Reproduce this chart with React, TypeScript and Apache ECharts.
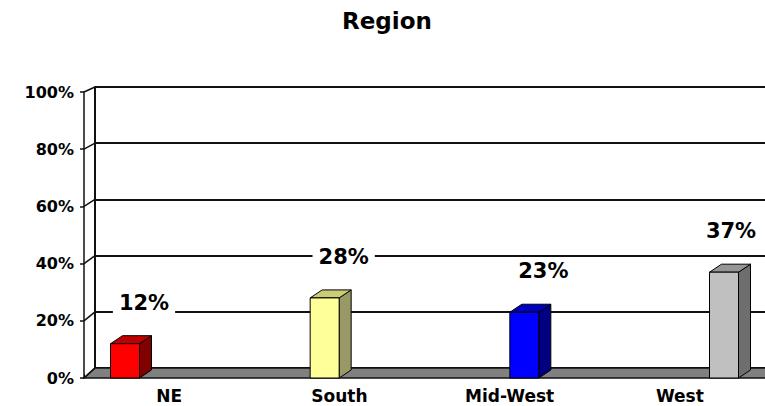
import React, { useEffect, useRef } from "react";
import * as echarts from "echarts";

const categories = ["NE", "South", "Mid-West", "West"];
const values = [12, 28, 23, 37];
const frontColors = ["#FF0000", "#FFFF99", "#0000FF", "#C0C0C0"];
const sideColors = ["#800000", "#999966", "#000080", "#6E6E6E"];
const topColors = ["#C00000", "#CCCC77", "#0000C0", "#969696"];
const yTicks = [0, 20, 40, 60, 80, 100];
const titleText = "Region";

// layout constants (3D box)
const FRONT = { left: 84, top: 92, bottom: 378 };
const BACK = { left: 95, top: 87, bottom: 368 };
const BAR_DX = 12;
const BAR_DY = -8;
const BAR_HALF = 14.5;
const W = 765;
const H = 406;
const FONT = "DejaVu Sans";

export default function App() {
  const ref = useRef<HTMLDivElement>(null);
  useEffect(() => {
    if (!ref.current) return;
    const chart = echarts.init(ref.current, undefined, { renderer: "svg" });

    const floorSeries = {
      type: "custom",
      xAxisIndex: 1,
      yAxisIndex: 1,
      z: 1,
      silent: true,
      data: [[0, 0]],
      renderItem: (params: any, api: any) => {
        const cs = params.coordSys;
        const yf = api.coord([0, 0])[1];
        const x0 = cs.x;
        const x1 = cs.x + cs.width;
        const dx = BACK.left - FRONT.left;
        const yb = BACK.bottom;
        return {
          type: "polygon",
          shape: {
            points: [
              [x0, yf],
              [x1 + 5, yf],
              [x1 + 5, yb],
              [x0 + dx, yb],
            ],
          },
          style: { fill: "#808080", stroke: "#111", lineWidth: 1.5 },
        };
      },
    };

    const sideWallSeries = {
      type: "custom",
      xAxisIndex: 1,
      yAxisIndex: 1,
      z: 1,
      silent: true,
      data: yTicks.map((v) => [0, v]),
      renderItem: (params: any, api: any) => {
        const cs = params.coordSys;
        const v = api.value(1);
        const yf = api.coord([0, v])[1];
        const t = (yf - FRONT.top) / (FRONT.bottom - FRONT.top);
        const yb = BACK.top + t * (BACK.bottom - BACK.top);
        return {
          type: "line",
          shape: { x1: cs.x, y1: yf, x2: BACK.left, y2: yb },
          style: { stroke: "#111", lineWidth: 1.5 },
        };
      },
    };

    const barSeries = {
      type: "custom",
      xAxisIndex: 2,
      yAxisIndex: 2,
      z: 3,
      data: values.map((v, i) => [i, v]),
      renderItem: (params: any, api: any) => {
        const i = api.value(0);
        const v = api.value(1);
        const [cx, ty] = api.coord([i, v]);
        const by = api.coord([i, 0])[1];
        const l = cx - BAR_HALF;
        const r = cx + BAR_HALF;
        const stroke = "#000";
        let lx = cx + 19;
        const halfW = 31;
        if (lx + halfW > W - 3) lx = W - 3 - halfW;
        return {
          type: "group",
          children: [
            {
              type: "polygon",
              shape: {
                points: [
                  [r, ty],
                  [r + BAR_DX, ty + BAR_DY],
                  [r + BAR_DX, by + BAR_DY],
                  [r, by],
                ],
              },
              style: { fill: sideColors[i], stroke, lineWidth: 1 },
            },
            {
              type: "polygon",
              shape: {
                points: [
                  [l, ty],
                  [l + BAR_DX, ty + BAR_DY],
                  [r + BAR_DX, ty + BAR_DY],
                  [r, ty],
                ],
              },
              style: { fill: topColors[i], stroke, lineWidth: 1 },
            },
            {
              type: "rect",
              shape: { x: l, y: ty, width: r - l, height: by - ty },
              style: { fill: frontColors[i], stroke, lineWidth: 1 },
            },
            {
              type: "text",
              x: lx,
              y: ty - 41,
              style: {
                text: v + "%",
                fill: "#000",
                font: `bold 21px "${FONT}"`,
                align: "center",
                verticalAlign: "middle",
                backgroundColor: "#fff",
                padding: [3, 6],
              },
            },
          ],
        };
      },
    };

    chart.setOption({
      animation: false,
      backgroundColor: "#fff",
      title: {
        text: titleText,
        left: 342,
        top: 9,
        padding: 0,
        textStyle: { fontFamily: FONT, fontWeight: "bold", fontSize: 23, color: "#000" },
      },
      grid: [
        { left: BACK.left, top: BACK.top, right: 0, bottom: H - BACK.bottom },
        { left: FRONT.left, top: FRONT.top, right: 0, bottom: H - FRONT.bottom },
        { left: 125, top: FRONT.top, right: 41, bottom: H - FRONT.bottom },
      ],
      xAxis: [
        { gridIndex: 0, type: "category", data: categories, show: false },
        {
          gridIndex: 1,
          type: "category",
          data: categories,
          axisLine: { show: false },
          axisTick: { show: true, inside: true, length: 4, lineStyle: { color: "#111", width: 1 } },
          axisLabel: {
            color: "#000",
            fontFamily: FONT,
            fontWeight: "bold",
            fontSize: 17,
            margin: 9,
          },
        },
        { gridIndex: 2, type: "category", data: categories, boundaryGap: false, show: false },
      ],
      yAxis: [
        {
          gridIndex: 0,
          type: "value",
          min: 0,
          max: 100,
          interval: 20,
          axisLine: { show: true, lineStyle: { color: "#111", width: 2 } },
          axisTick: { show: false },
          axisLabel: { show: false },
          splitLine: { show: true, lineStyle: { color: "#111", width: 2 } },
        },
        {
          gridIndex: 1,
          type: "value",
          min: 0,
          max: 100,
          interval: 20,
          axisLine: { show: true, lineStyle: { color: "#111", width: 1.5 } },
          axisTick: { show: true, length: 4, lineStyle: { color: "#111", width: 1.5 } },
          axisLabel: {
            formatter: "{value}%",
            color: "#000",
            fontFamily: FONT,
            fontWeight: "bold",
            fontSize: 16,
            margin: 10,
          },
          splitLine: { show: false },
        },
        { gridIndex: 2, type: "value", min: 0, max: 100, interval: 20, show: false },
      ],
      series: [floorSeries, sideWallSeries, barSeries],
    });
    return () => chart.dispose();
  }, []);
  return (
    <div
      ref={ref}
      style={{ position: "fixed", left: 0, top: 0, width: W, height: H }}
    />
  );
}
